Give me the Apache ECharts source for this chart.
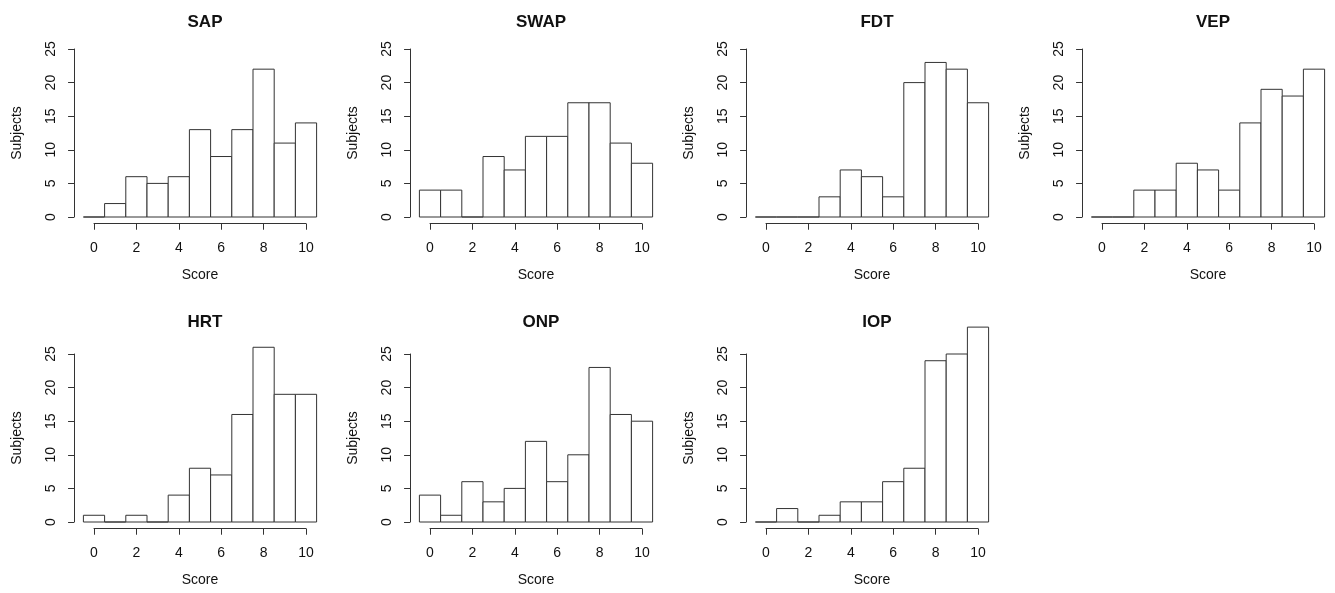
<!DOCTYPE html>
<html>
<head>
<meta charset="utf-8">
<script src="https://cdn.jsdelivr.net/npm/echarts@6/dist/echarts.min.js"></script>
<style>
  html, body { margin: 0; padding: 0; background: #fff; }
  #charts { width: 1335px; height: 593px; }
</style>
</head>
<body>
<div id="charts"></div>
<script>
// score bins (histogram centres)
var scores = [0, 1, 2, 3, 4, 5, 6, 7, 8, 9, 10];
var xTicks = [0, 2, 4, 6, 8, 10];
var yTicks = [0, 5, 10, 15, 20, 25];

// subjects per score
var SAP  = [0, 2, 6, 5, 6, 13, 9, 13, 22, 11, 14];
var SWAP = [4, 4, 0, 9, 7, 12, 12, 17, 17, 11, 8];
var FDT  = [0, 0, 0, 3, 7, 6, 3, 20, 23, 22, 17];
var VEP  = [0, 0, 4, 4, 8, 7, 4, 14, 19, 18, 22];
var HRT  = [1, 0, 1, 0, 4, 8, 7, 16, 26, 19, 19];
var ONP  = [4, 1, 6, 3, 5, 12, 6, 10, 23, 16, 15];
var IOP  = [0, 2, 0, 1, 3, 3, 6, 8, 24, 25, 29];

var panels = [
  { name: 'SAP', data: SAP },
  { name: 'SWAP', data: SWAP },
  { name: 'FDT', data: FDT },
  { name: 'VEP', data: VEP },
  { name: 'HRT', data: HRT },
  { name: 'ONP', data: ONP },
  { name: 'IOP', data: IOP }
];

var myChart = echarts.init(document.getElementById('charts'));

var sx = 21.2, sy = 6.72;          // px per unit
var xMin = -0.94, xMax = 10.94;     // R style 4% padding around -0.5..10.5
var yMin = -1, yMax = 26;
var ink = '#333';
var font = 'Liberation Sans, Arial, sans-serif';

var grids = [], xAxes = [], yAxes = [], series = [], titles = [];

panels.forEach(function (p, i) {
  var col = i % 4, row = Math.floor(i / 4);
  var x0 = 94 + 336 * col;          // pixel of score 0
  var y0 = 217 + 305 * row;         // pixel of count 0
  var left = x0 + xMin * sx;
  var top = y0 - yMax * sy;
  var w = (xMax - xMin) * sx;
  var h = (yMax - yMin) * sy;

  // data grid
  var g = grids.length;
  grids.push({ left: left, top: top, width: w, height: h });
  xAxes.push({ gridIndex: g, type: 'value', min: xMin, max: xMax, show: false });
  yAxes.push({ gridIndex: g, type: 'value', min: yMin, max: yMax, show: false });
  series.push({
    type: 'custom',
    xAxisIndex: g, yAxisIndex: g,
    clip: false,
    data: scores.map(function (s, k) { return [s, p.data[k]]; }),
    renderItem: function (params, api) {
      var x = api.value(0), y = api.value(1);
      var a = api.coord([x - 0.5, 0]);
      var b = api.coord([x + 0.5, y]);
      return {
        type: 'rect',
        shape: { x: a[0], y: b[1], width: b[0] - a[0], height: a[1] - b[1] },
        style: { fill: '#fff', stroke: ink, lineWidth: 1 }
      };
    }
  });

  // x axis (0..10 only), at the bottom of the plot region
  var gx = grids.length;
  grids.push({ left: x0, top: top, width: 10 * sx, height: h });
  xAxes.push({
    gridIndex: gx, type: 'value', min: 0, max: 10, interval: 2,
    name: 'Score', nameLocation: 'middle', nameGap: 44,
    nameTextStyle: { color: '#111', fontSize: 14, fontFamily: font },
    axisLine: { show: true, onZero: false, lineStyle: { color: ink, width: 1 } },
    axisTick: { show: true, length: 6, lineStyle: { color: ink } },
    axisLabel: { color: '#111', fontSize: 14, fontFamily: font, margin: 17,
      formatter: function (v) { return xTicks.indexOf(v) >= 0 ? String(v) : ''; } },
    splitLine: { show: false }
  });
  yAxes.push({ gridIndex: gx, type: 'value', min: yMin, max: yMax, show: false });

  // y axis (0..25 only), at the left of the plot region
  var gy = grids.length;
  grids.push({ left: left, top: y0 - 25 * sy, width: w, height: 25 * sy });
  xAxes.push({ gridIndex: gy, type: 'value', min: xMin, max: xMax, show: false });
  yAxes.push({
    gridIndex: gy, type: 'value', min: 0, max: 25, interval: 5,
    name: 'Subjects', nameLocation: 'middle', nameGap: 50, nameRotate: 90,
    nameTextStyle: { color: '#111', fontSize: 14, fontFamily: font },
    axisLine: { show: true, onZero: false, lineStyle: { color: ink, width: 1 } },
    axisTick: { show: true, length: 6, lineStyle: { color: ink } },
    axisLabel: { color: '#111', fontSize: 14, fontFamily: font, margin: 16, rotate: 90,
      formatter: function (v) { return yTicks.indexOf(v) >= 0 ? String(v) : ''; } },
    splitLine: { show: false }
  });

  titles.push({
    text: p.name,
    left: x0 + 5 * sx, top: 9 + 300 * row, textAlign: 'center',
    textStyle: { color: '#111', fontSize: 17, fontWeight: 'bold', fontFamily: font }
  });
});

var option = {
  backgroundColor: '#fff',
  animation: false,
  title: titles,
  grid: grids,
  xAxis: xAxes,
  yAxis: yAxes,
  series: series
};
myChart.setOption(option);
</script>
</body>
</html>
